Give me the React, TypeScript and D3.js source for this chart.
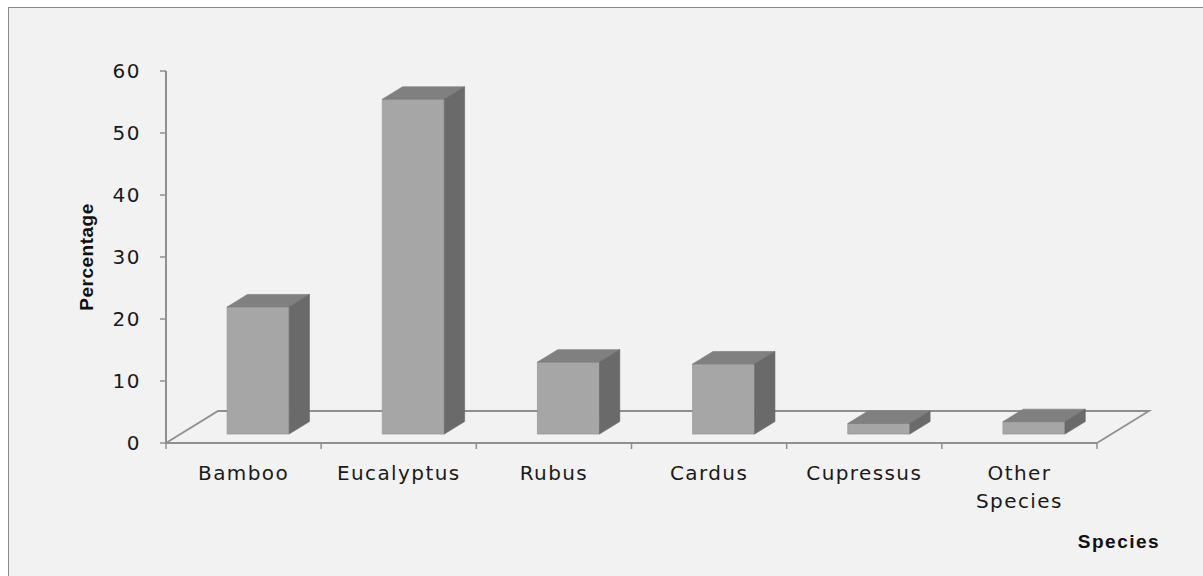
import React from "react";
import * as d3 from "d3";

const categories = ["Bamboo", "Eucalyptus", "Rubus", "Cardus", "Cupressus", "Other Species"];
const values = [20.5, 54, 11.6, 11.3, 1.7, 2.0];
const yTicks = [0, 10, 20, 30, 40, 50, 60];

const W = 1203, H = 576;
const X0 = 166, X1 = 1097, Y0 = 443, Y1 = 71;
const DX = 52, DY = -32; // floor depth projection
const D0 = 0.28, D1 = 0.67; // bar depth range

export default function App() {
  const x = d3.scaleBand<string>().domain(categories).range([X0, X1]).paddingInner(0).paddingOuter(0);
  const y = d3.scaleLinear().domain([0, 60]).range([Y0, Y1]);
  const bw = x.bandwidth() * 0.4;
  const proj = (px: number, py: number, d: number): [number, number] => [px + DX * d, py + DY * d];
  const pts = (arr: [number, number][]) => arr.map((p) => p.join(",")).join(" ");
  const axisColor = "#8f8f8f";

  return (
    <svg width={W} height={H} style={{ position: "absolute", left: 0, top: 0, background: "#ffffff" }}>
      <rect x={8.5} y={7.5} width={W} height={H} fill="#f2f2f2" stroke="#8a8a8a" strokeWidth={1} />
      {/* floor */}
      <polyline
        points={pts([proj(X0, Y0, 0), proj(X0, Y0, 1), proj(X1, Y0, 1), proj(X1, Y0, 0)])}
        fill="none"
        stroke={axisColor}
        strokeWidth={1.8}
      />
      {/* y axis */}
      <line x1={X0} x2={X0} y1={Y1} y2={Y0} stroke={axisColor} strokeWidth={2} />
      {yTicks.map((t) => (
        <g key={t}>
          <line x1={X0 - 6} x2={X0} y1={y(t)} y2={y(t)} stroke={axisColor} strokeWidth={1.5} />
          <text
            x={141}
            y={y(t)}
            dy="0.36em"
            textAnchor="end"
            fontFamily="DejaVu Sans"
            fontSize={20}
            letterSpacing={1.5}
            fill="#1a1a1a"
          >
            {t}
          </text>
        </g>
      ))}
      {/* bars */}
      {categories.map((c, i) => {
        const cx = (x(c) as number) + x.bandwidth() / 2;
        const l = cx - bw / 2;
        const r = cx + bw / 2;
        const top = y(values[i]);
        const fl = proj(l, Y0, D0), fr = proj(r, Y0, D0);
        const tl = proj(l, top, D0), tr = proj(r, top, D0);
        const btl = proj(l, top, D1), btr = proj(r, top, D1);
        const bbr = proj(r, Y0, D1);
        return (
          <g key={c}>
            <polygon points={pts([fl, tl, tr, fr])} fill="#a6a6a6" stroke="#9a9a9a" strokeWidth={0.8} />
            <polygon points={pts([tl, btl, btr, tr])} fill="#808080" stroke="#7a7a7a" strokeWidth={0.6} />
            <polygon points={pts([fr, tr, btr, bbr])} fill="#6a6a6a" stroke="#666" strokeWidth={0.6} />
          </g>
        );
      })}
      {/* front floor edge drawn on top */}
      <line x1={X0} x2={X1} y1={Y0} y2={Y0} stroke={axisColor} strokeWidth={2} />
      {/* category ticks */}
      {[...categories.map((c) => x(c) as number), X1].map((t, i) => (
        <line key={i} x1={t} x2={t} y1={Y0} y2={Y0 + 6} stroke={axisColor} strokeWidth={1.5} />
      ))}
      {categories.map((c) => {
        const cx = (x(c) as number) + x.bandwidth() / 2;
        const words = c === "Other Species" ? ["Other", "Species"] : [c];
        return (
          <text key={c} textAnchor="middle" fontFamily="DejaVu Sans" fontSize={20} letterSpacing={1.4} fill="#1a1a1a">
            {words.map((w, j) => (
              <tspan key={j} x={cx} y={480 + j * 28}>
                {w}
              </tspan>
            ))}
          </text>
        );
      })}
      <text
        transform="translate(93,257) rotate(-90)"
        textAnchor="middle"
        fontFamily="Liberation Sans"
        fontWeight="bold"
        fontSize={19}
        letterSpacing={0.5}
        fill="#111"
      >
        Percentage
      </text>
      <text
        x={1119}
        y={548}
        textAnchor="middle"
        fontFamily="Liberation Sans"
        fontWeight="bold"
        fontSize={19}
        letterSpacing={1.5}
        fill="#111"
      >
        Species
      </text>
    </svg>
  );
}
